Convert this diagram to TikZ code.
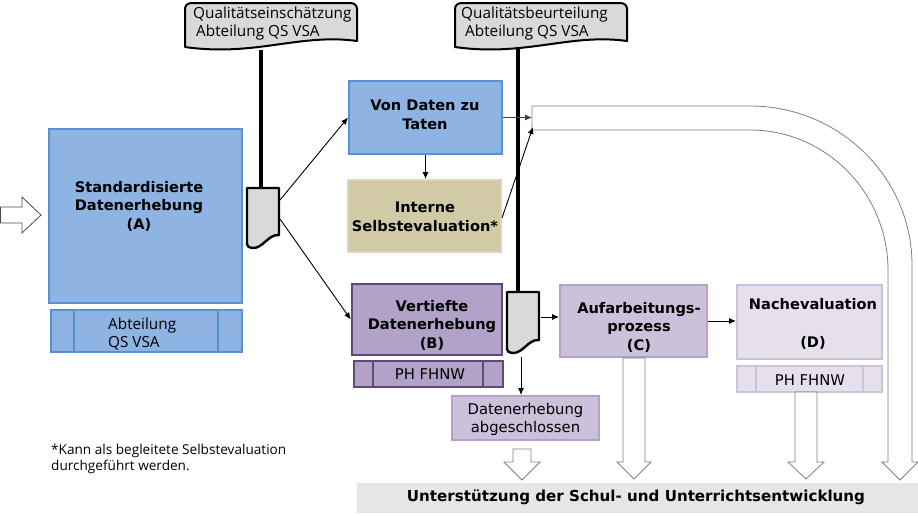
\documentclass[tikz,border=0pt]{standalone}
\usepackage{fontspec}
\setmainfont{Open Sans}
\newfontfamily\dvs{DejaVu Sans}
\usetikzlibrary{arrows.meta,calc}
\definecolor{blueF}{HTML}{8EB4E3}
\definecolor{blueD}{HTML}{5A8FD6}
\definecolor{khakiF}{HTML}{D2CAA7}
\definecolor{khakiD}{HTML}{DCD5BA}
\definecolor{purF}{HTML}{B3A2C7}
\definecolor{purD}{HTML}{5F497A}
\definecolor{lavF}{HTML}{CCC1DA}
\definecolor{lavD}{HTML}{B3A2C7}
\definecolor{palF}{HTML}{E5E0EC}
\definecolor{palD}{HTML}{CCC1DA}
\definecolor{docF}{HTML}{D9D9D9}
\definecolor{barF}{HTML}{E6E6E6}
\definecolor{hollowD}{HTML}{7F7F7F}
\newcommand\hollowdn[6]{%
  \draw[hollow] ({#1-#5},#2) -- ({#1-#5},#3) -- ({#1-#6},#3) -- (#1,#4) -- ({#1+#6},#3) -- ({#1+#5},#3) -- ({#1+#5},#2) -- cycle;}
\tikzset{
  box/.style={draw, line width=2pt, minimum width=#1, inner sep=0pt},
  bold/.style={font=\dvs\bfseries\fontsize{14.6}{18.5}\selectfont, align=center, inner sep=0pt},
  plain/.style={font=\dvs\fontsize{14.8}{18}\selectfont, align=center, inner sep=0pt},
  frut/.style={font=\fontsize{15.3}{18}\selectfont, inner sep=0pt},
  arr/.style={-{Latex[length=7pt,width=6pt]}, line width=0.9pt},
  hollow/.style={draw=hollowD, fill=white, line width=0.8pt},
  docshape/.style={draw=black, fill=docF, line width=2.4pt, line join=round},
  banner/.style={draw=black, fill=docF, line width=2pt, line join=round},
  stem/.style={line width=3.2pt}
}
\begin{document}
\begin{tikzpicture}[x=1pt,y=-1pt]
\useasboundingbox (0,0) rectangle (918,515);
% left input arrow
\draw[hollow, draw=black!70] (0.5,207) -- (22,207) -- (22,197) -- (41,215) -- (22,233) -- (22,223) -- (0.5,223) -- cycle;

% box A
\node[box=193pt, draw=blueD, fill=blueF, minimum height=174pt] (A) at (145.5,216) {};
\node[bold] (Atext) at (139,206) {Standardisierte\\Datenerhebung\\(A)};
% bar under A
\node[box=191pt, draw=blueD, fill=blueF, minimum height=42pt] (Abar) at (146.5,330.5) {};
\draw[blueD, line width=2pt] (74,309.5) -- (74,351.5) (218,309.5) -- (218,351.5);
\node[frut, align=left, anchor=west] (Abartext) at (108,334) {Abteilung\\QS VSA};

% banners
\draw[banner] (185,47) -- (185,9) .. controls (185,5) and (188,3) .. (192,3) -- (350,3) .. controls (354,3) and (357,5) .. (357,9) -- (357,41) .. controls (300,33) and (255,57) .. (185,47) -- cycle;
\node[frut, align=left, anchor=north west] (ban1) at (193,7) {Qualitätseinschätzung\\\hspace*{3pt}Abteilung QS VSA};
\draw[banner] (455,47) -- (455,9) .. controls (455,5) and (458,3) .. (462,3) -- (620,3) .. controls (624,3) and (627,5) .. (627,9) -- (627,41) .. controls (570,33) and (525,57) .. (455,47) -- cycle;
\node[frut, align=left, anchor=north west] (ban2) at (461,7) {Qualitätsbeurteilung\\\hspace*{4pt}Abteilung QS VSA};

% stems
\coordinate (s1top) at (261,50);
\coordinate (s1bot) at (261,188);
\coordinate (s2top) at (518,47);
\coordinate (s2bot) at (518,292);
\draw[stem] (s1top) -- (s1bot);
\draw[stem] (s2top) -- (s2bot);

% documents
\draw[docshape] (247,188) -- (279,188) -- (279,235) .. controls (268,234) and (263,249) .. (252,248) .. controls (249,248) and (247,246) .. (247,244) -- cycle;
\draw[docshape] (507,292) -- (539,292) -- (539,340) .. controls (528,339) and (523,354) .. (512,353) .. controls (509,353) and (507,351) .. (507,349) -- cycle;
\coordinate (d1a) at (280,200);
\coordinate (d1b) at (280,219);
\coordinate (d2r) at (541,317);
\coordinate (d2b) at (521,357);

% Von Daten zu Taten
\node[box=153pt, draw=blueD, fill=blueF, minimum height=73pt] (V) at (425.5,117.5) {};
\node[bold] (Vtext) at (425,115) {Von Daten zu\\Taten};
% Interne Selbstevaluation
\node[box=153pt, draw=khakiD, fill=khakiF, minimum height=72pt] (I) at (424.5,216) {};
\node[bold] (Itext) at (425,217) {Interne\\Selbstevaluation*};
% B
\node[box=150pt, draw=purD, fill=purF, minimum height=71pt, line width=2.4pt] (B) at (427,319.5) {};
\node[bold] (Btext) at (432,325) {Vertiefte\\Datenerhebung\\(B)};
\node[box=149pt, draw=purD, fill=purF, minimum height=26pt] (Bbar) at (428.5,373.5) {};
\draw[purD, line width=2pt] (373,360.5) -- (373,386.5) (483,360.5) -- (483,386.5);
\node[plain] (Bbartext) at (430,374) {PH FHNW};
% C
\node[box=147pt, draw=lavD, fill=lavF, minimum height=72pt] (C) at (633.5,321) {};
\node[bold] (Ctext) at (639,327) {Aufarbeitungs-\\prozess\\(C)};
% D
\node[box=145pt, draw=palD, fill=palF, minimum height=74pt] (D) at (809.5,322) {};
\node[bold] (Dtext) at (813,324) {Nachevaluation\\[19pt](D)};
\node[box=145pt, draw=palD, fill=palF, minimum height=26pt] (Dbar) at (809.5,379) {};
\draw[palD, line width=2pt] (756,366) -- (756,392) (863,366) -- (863,392);
\node[plain] (Dbartext) at (810,380) {PH FHNW};
% abgeschlossen
\node[box=147pt, draw=lavD, fill=lavF, minimum height=44pt] (E) at (525.5,418) {};
\node[plain] (Etext) at (525.5,419) {Datenerhebung\\abgeschlossen};

% bottom bar
\node[fill=barF, minimum width=561pt, minimum height=30pt, inner sep=0pt] (bar) at (637.5,498) {};
\node[bold, font=\dvs\bfseries\fontsize{15.1}{18}\selectfont] (bartext) at (636,497) {Unterstützung der Schul- und Unterrichtsentwicklung};

% footnote
\node[font=\fontsize{13.6}{15.5}\selectfont, align=left, anchor=north west, inner sep=0pt] (fn) at (51,444) {*Kann als begleitete Selbstevaluation\\durchgeführt werden.};

% big curved hollow arrow
\draw[hollow] (532,106) -- (750,106) .. controls (839,106) and (912,177) .. (912,265) -- (912,462) -- (918,462) -- (900,480) -- (882,462) -- (888,462) -- (888,270) .. controls (888,193) and (826,130) .. (750,130) -- (532,130) -- cycle;
\coordinate (cv1) at (532,118);
\coordinate (cv2) at (533,127);

% hollow down arrows
\hollowdn{522}{449}{462}{480}{9}{18}
\hollowdn{634}{358}{462}{479}{11}{17}
\hollowdn{806}{392}{462}{479}{11}{18}

% connectors
\draw[arr] (d1a) -- (V.west);
\draw[arr] (d1b) -- (B.west);
\draw[arr] (V.south) -- (V.south |- I.north);
\draw[arr, draw=black!75] (V.east) -- (V.east -| cv1);
\draw[arr] ($(I.east)+(0,2)$) -- (cv2);
\draw[arr] (d2r) -- (d2r -| C.west);
\draw[arr] (C.east) -- (C.east -| D.west);
\draw[arr] (d2b) -- (d2b |- E.north);
\end{tikzpicture}
\end{document}
